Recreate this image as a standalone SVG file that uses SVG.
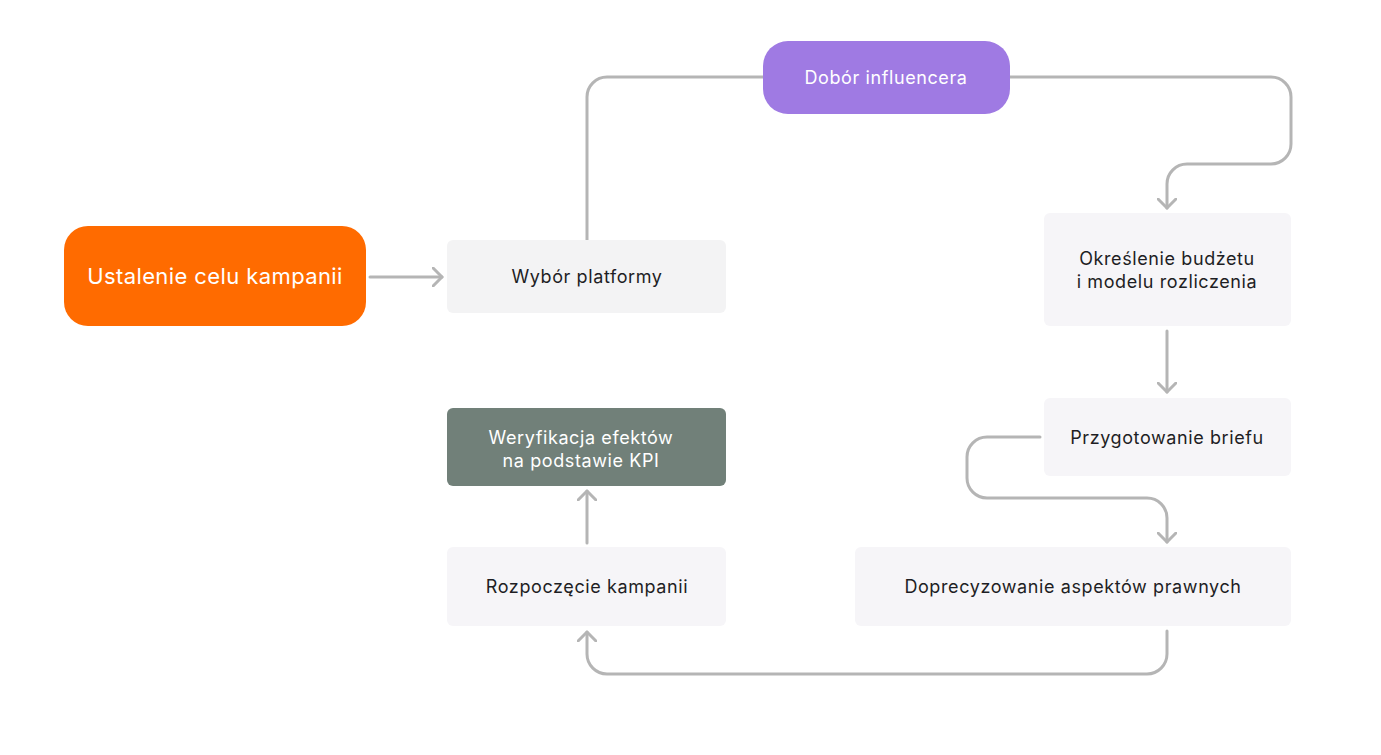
<svg xmlns="http://www.w3.org/2000/svg" width="1381" height="755" viewBox="0 0 1381 755">
<defs>
<marker id="arr" viewBox="0 0 12 20" refX="10" refY="10" markerWidth="12" markerHeight="20" markerUnits="userSpaceOnUse" orient="auto">
<path d="M1,1 L10,10 L1,19" fill="none" stroke="#B5B5B5" stroke-width="3" stroke-linecap="round" stroke-linejoin="round"/>
</marker>
<style>
.c{fill:none;stroke:#B5B5B5;stroke-width:3;stroke-linecap:round}
.t{font-family:Inter,"Noto Sans",sans-serif;font-size:18px;letter-spacing:0.6px;fill:#1E1E24;text-anchor:middle}
.w{fill:#FFFFFF}
.g{fill:#F3F3F4}
.p{fill:#F6F5F8}
</style>
</defs>
<rect width="1381" height="755" fill="#FFFFFF"/>
<g id="connectors">
<path class="c" d="M370,277 H442" marker-end="url(#arr)"/>
<path class="c" d="M587,240 V97 A20,20 0 0 1 607,77 H763"/>
<path class="c" d="M1010,77 H1271 A20,20 0 0 1 1291,97 V144 A20,20 0 0 1 1271,164 H1187 A20,20 0 0 0 1167,184 V208" marker-end="url(#arr)"/>
<path class="c" d="M1167,331 V392" marker-end="url(#arr)"/>
<path class="c" d="M1040,437 H987 A20,20 0 0 0 967,457 V478 A20,20 0 0 0 987,498 H1147 A20,20 0 0 1 1167,518 V542" marker-end="url(#arr)"/>
<path class="c" d="M1167,631 V654 A20,20 0 0 1 1147,674 H607 A20,20 0 0 1 587,654 V632" marker-end="url(#arr)"/>
<path class="c" d="M587,543 V491" marker-end="url(#arr)"/>
</g>
<g id="n1">
<rect x="64" y="226" width="302" height="100" rx="24" fill="#FF6B00"/>
<text class="t w" x="215" y="284" style="font-size:22px;letter-spacing:0.4px">Ustalenie celu kampanii</text>
</g>
<g id="n2">
<rect class="g" x="447" y="240" width="279" height="73" rx="6"/>
<text class="t" x="587" y="283">Wybór platformy</text>
</g>
<g id="n3">
<rect x="763" y="41" width="247" height="73" rx="25" fill="#9F7AE3"/>
<text class="t w" x="886" y="84">Dobór influencera</text>
</g>
<g id="n4">
<rect class="p" x="1044" y="213" width="247" height="113" rx="6"/>
<text class="t" x="1167" y="265">Określenie budżetu</text>
<text class="t" x="1167" y="288">i modelu rozliczenia</text>
</g>
<g id="n5">
<rect class="p" x="1044" y="398" width="247" height="78" rx="6"/>
<text class="t" x="1167" y="444">Przygotowanie briefu</text>
</g>
<g id="n6">
<rect class="p" x="855" y="547" width="436" height="79" rx="6"/>
<text class="t" x="1073" y="593">Doprecyzowanie aspektów prawnych</text>
</g>
<g id="n7">
<rect class="p" x="447" y="547" width="279" height="79" rx="6"/>
<text class="t" x="587" y="593">Rozpoczęcie kampanii</text>
</g>
<g id="n8">
<rect x="447" y="408" width="279" height="78" rx="6" fill="#718079"/>
<text class="t w" x="581" y="444">Weryfikacja efektów</text>
<text class="t w" x="581" y="467">na podstawie KPI</text>
</g>
</svg>
